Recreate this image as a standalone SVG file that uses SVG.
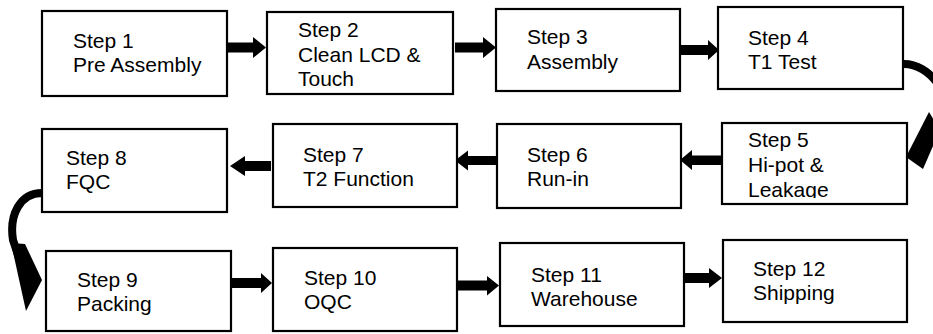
<svg xmlns="http://www.w3.org/2000/svg" width="933" height="334" viewBox="0 0 933 334">
<style>
.box{fill:#fff;stroke:#000;stroke-width:2.2}
.t{font-family:"Liberation Sans",Arial,sans-serif;font-size:21px;fill:#000}
.arr{fill:#000;stroke:none}
.crv{fill:none;stroke:#000;stroke-width:8}
</style>
<defs>
<clipPath id="c5"><rect x="722" y="123" width="185" height="75"/></clipPath>
</defs>
<rect width="933" height="334" fill="#fff"/>
<g id="connectors">
<polygon class="arr" points="227,42.5 253,42.5 253,37 266,47.5 253,58 253,52.5 227,52.5"/>
<polygon class="arr" points="455,42.5 483,42.5 483,37 496,47.5 483,58 483,52.5 455,52.5"/>
<polygon class="arr" points="680,45 708,45 708,40 719,50 708,60 708,55 680,55"/>
<path class="crv" d="M904 64 C930 64 952 95 945 120 L922 150"/>
<polygon class="arr" points="929,112 906,157 923,169 940,130"/>
<polygon class="arr" points="722,155.5 692,155.5 692,150 680,160 692,170 692,165 722,165"/>
<polygon class="arr" points="497,156 468,156 468,150.5 455,160.5 468,170.5 468,165 497,165"/>
<polygon class="arr" points="271,161 245,161 245,156 230,166 245,176 245,171 271,171"/>
<path class="crv" d="M42 193 C20 193 9 215 13 240 L19 258"/>
<polygon class="arr" points="11,243 25,244 42,280 26,311"/>
<polygon class="arr" points="232,278 261,278 261,273 272,283 261,293 261,288 232,288"/>
<polygon class="arr" points="457,280.5 487,280.5 487,276 499,285.5 487,295.5 487,290.5 457,290.5"/>
<polygon class="arr" points="682,273 709,273 709,268 722,278 709,288 709,283 682,283"/>
</g>
<g id="step1"><rect class="box" x="42" y="11" width="185" height="85"/><text class="t" x="73" y="48">Step 1</text><text class="t" x="73" y="72">Pre Assembly</text></g>
<g id="step2"><rect class="box" x="267" y="12" width="186" height="82"/><text class="t" x="298" y="37">Step 2</text><text class="t" x="298" y="61.5">Clean LCD &amp;</text><text class="t" x="298" y="86">Touch</text></g>
<g id="step3"><rect class="box" x="496" y="9" width="184" height="82"/><text class="t" x="527" y="44">Step 3</text><text class="t" x="527" y="69">Assembly</text></g>
<g id="step4"><rect class="box" x="718" y="7" width="185" height="82"/><text class="t" x="748" y="45">Step 4</text><text class="t" x="748" y="69">T1 Test</text></g>
<g id="step5"><rect class="box" x="722" y="123" width="185" height="81"/><g clip-path="url(#c5)"><text class="t" x="748" y="147">Step 5</text><text class="t" x="748" y="172">Hi-pot &amp;</text><text class="t" x="748" y="197">Leakage</text></g></g>
<g id="step6"><rect class="box" x="497" y="124" width="184" height="84"/><text class="t" x="527" y="162">Step 6</text><text class="t" x="527" y="186">Run-in</text></g>
<g id="step7"><rect class="box" x="273" y="124" width="184" height="83"/><text class="t" x="303" y="162">Step 7</text><text class="t" x="303" y="186">T2 Function</text></g>
<g id="step8"><rect class="box" x="42" y="129" width="185" height="83"/><text class="t" x="66" y="165">Step 8</text><text class="t" x="66" y="189">FQC</text></g>
<g id="step9"><rect class="box" x="46" y="251" width="185" height="80"/><text class="t" x="77" y="287">Step 9</text><text class="t" x="77" y="311">Packing</text></g>
<g id="step10"><rect class="box" x="273" y="248" width="184" height="83"/><text class="t" x="304" y="285">Step 10</text><text class="t" x="304" y="309">OQC</text></g>
<g id="step11"><rect class="box" x="500" y="243" width="184" height="83"/><text class="t" x="531" y="282">Step 11</text><text class="t" x="531" y="306">Warehouse</text></g>
<g id="step12"><rect class="box" x="723" y="240" width="184" height="82"/><text class="t" x="753" y="276">Step 12</text><text class="t" x="753" y="300">Shipping</text></g>
</svg>
